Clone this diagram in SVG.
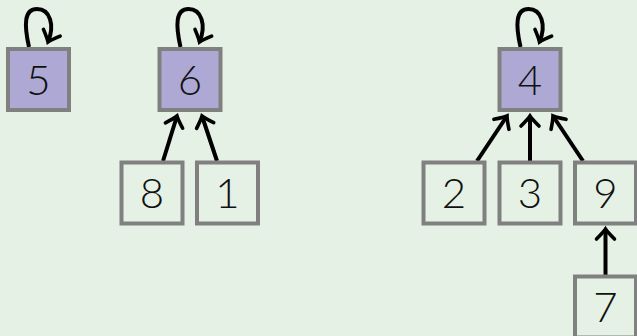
<svg xmlns="http://www.w3.org/2000/svg" width="637" height="336" viewBox="0 0 637 336">
<style>
.box rect{stroke:#808080;stroke-width:4}
.root rect{fill:#ada9d4}
.leaf rect{fill:#e5f1e4}
text{font-family:Lato,"Open Sans","DejaVu Sans",sans-serif;font-weight:300;font-size:42px;fill:#111;text-anchor:middle}
.edges path{fill:none;stroke:#000;stroke-width:4}
</style>
<defs>
<marker id="ah" markerUnits="userSpaceOnUse" markerWidth="26" markerHeight="26" viewBox="-13 -13 26 26" refX="0" refY="0" orient="auto">
<path d="M -10 -9 Q -3 -2 0 0 Q -3 2 -10 9" fill="none" stroke="#000" stroke-width="3.6" stroke-linecap="round"/>
</marker>
</defs>
<rect width="637" height="336" fill="#e5f1e4"/>
<g class="edges">
<path d="M 29 47 C 24 25 24 9 37 9 C 50 9 55 25 48 42" marker-end="url(#ah)"/>
<path d="M 180.5 47 C 175.5 25 175.5 9 188.5 9 C 201.5 9 206.5 25 199.5 42" marker-end="url(#ah)"/>
<path d="M 520.5 47 C 515.5 25 515.5 9 528.5 9 C 541.5 9 546.5 25 539.5 42" marker-end="url(#ah)"/>
<path d="M 163 161 L 177 116" marker-end="url(#ah)"/>
<path d="M 217 161 L 202 116" marker-end="url(#ah)"/>
<path d="M 477 161 L 507 116" marker-end="url(#ah)"/>
<path d="M 530 161 L 530 116" marker-end="url(#ah)"/>
<path d="M 583 161 L 553 116" marker-end="url(#ah)"/>
<path d="M 605.5 275 L 605.5 229" marker-end="url(#ah)"/>
</g>
<g id="n5" class="box root"><rect x="8" y="49" width="61" height="61"/><text x="38.5" y="95">5</text></g>
<g id="n6" class="box root"><rect x="159.5" y="49" width="61" height="61"/><text x="190" y="95">6</text></g>
<g id="n4" class="box root"><rect x="499.5" y="49" width="61" height="61"/><text x="530" y="95">4</text></g>
<g id="n8" class="box leaf"><rect x="121.5" y="162.5" width="61" height="61"/><text x="152" y="208">8</text></g>
<g id="n1" class="box leaf"><rect x="197" y="162.5" width="61" height="61"/><text x="227.5" y="208">1</text></g>
<g id="n2" class="box leaf"><rect x="423.5" y="162.5" width="61" height="61"/><text x="454" y="208">2</text></g>
<g id="n3" class="box leaf"><rect x="499.5" y="162.5" width="61" height="61"/><text x="530" y="208">3</text></g>
<g id="n9" class="box leaf"><rect x="575" y="162.5" width="61" height="61"/><text x="605.5" y="208">9</text></g>
<g id="n7" class="box leaf"><rect x="575" y="276.5" width="61" height="61"/><text x="605.5" y="322">7</text></g>
</svg>
